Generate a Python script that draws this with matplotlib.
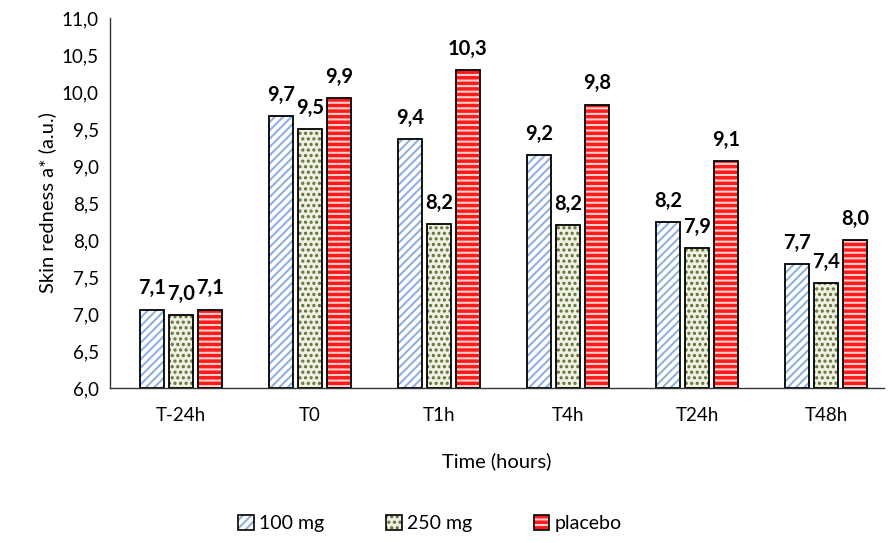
import numpy as np
import matplotlib.pyplot as plt
from matplotlib.patches import Patch

plt.rcParams['font.family'] = ['Lato', 'DejaVu Sans']
plt.rcParams['hatch.linewidth'] = 1.5

times = ['T-24h', 'T0', 'T1h', 'T4h', 'T24h', 'T48h']
mg100 = [7.06, 9.67, 9.37, 9.15, 8.24, 7.67]
mg250 = [6.98, 9.50, 8.21, 8.20, 7.89, 7.42]
placebo = [7.06, 9.92, 10.30, 9.83, 9.07, 8.00]
series_names = ['100 mg', '250 mg', 'placebo']

styles = [
    dict(face='white', hatch='////', hcol='#8eb1df'),
    dict(face='#eef1e2', hatch='...', hcol='#5f6e38'),
    dict(face='#ff1a1a', hatch='---', hcol='#ffd0d0'),
]

fig = plt.figure(figsize=(8.9, 5.43), dpi=100)
ax = fig.add_axes([0.1236, 0.2855, 0.8697, 0.6814])

x = np.arange(len(times))
w = 0.185
off = 0.225
handles = []
for i, vals in enumerate([mg100, mg250, placebo]):
    st = styles[i]
    pos = x + (i - 1) * off
    ax.bar(pos, np.array(vals) - 6, w, bottom=6, color=st['face'],
           edgecolor=st['hcol'], hatch=st['hatch'], linewidth=0)
    ax.bar(pos, np.array(vals) - 6, w, bottom=6, fill=False,
           edgecolor='black', linewidth=1.3)
    # legend proxy: hatched square with black border on top
    handles.append((Patch(facecolor=st['face'], edgecolor=st['hcol'], hatch=st['hatch'], linewidth=0),
                    Patch(fill=False, edgecolor='black', linewidth=1.2)))
    for p, v in zip(pos, vals):
        ax.text(p, v + 0.15, f'{v:.1f}'.replace('.', ','), ha='center',
                va='bottom', fontsize=14.5, fontweight='bold')

ax.set_ylim(6, 11)
ax.set_xlim(-0.55, 5.45)
yt = np.arange(6, 11.01, 0.5)
ax.set_yticks(yt)
ax.set_yticklabels([f'{t:.1f}'.replace('.', ',') for t in yt], fontsize=13.5)
ax.set_xticks(x)
ax.set_xticklabels(times, fontsize=13.5)
ax.tick_params(length=0, pad=8)
ax.tick_params(axis='x', pad=14)
for s in ['top', 'right']:
    ax.spines[s].set_visible(False)
for s in ['left', 'bottom']:
    ax.spines[s].set_linewidth(1.0)
    ax.spines[s].set_color('#333333')

ax.set_ylabel('Skin redness a* (a.u.)', fontsize=14.5)
ax.set_xlabel('Time (hours)', fontsize=14.5, labelpad=20)

fig.legend(handles, series_names, loc='lower center', bbox_to_anchor=(0.483, -0.012),
           ncol=3, frameon=False, fontsize=14, handlelength=0.8, handleheight=0.8,
           handletextpad=0.25, columnspacing=3.2)

fig.savefig('out.png', dpi=100)
